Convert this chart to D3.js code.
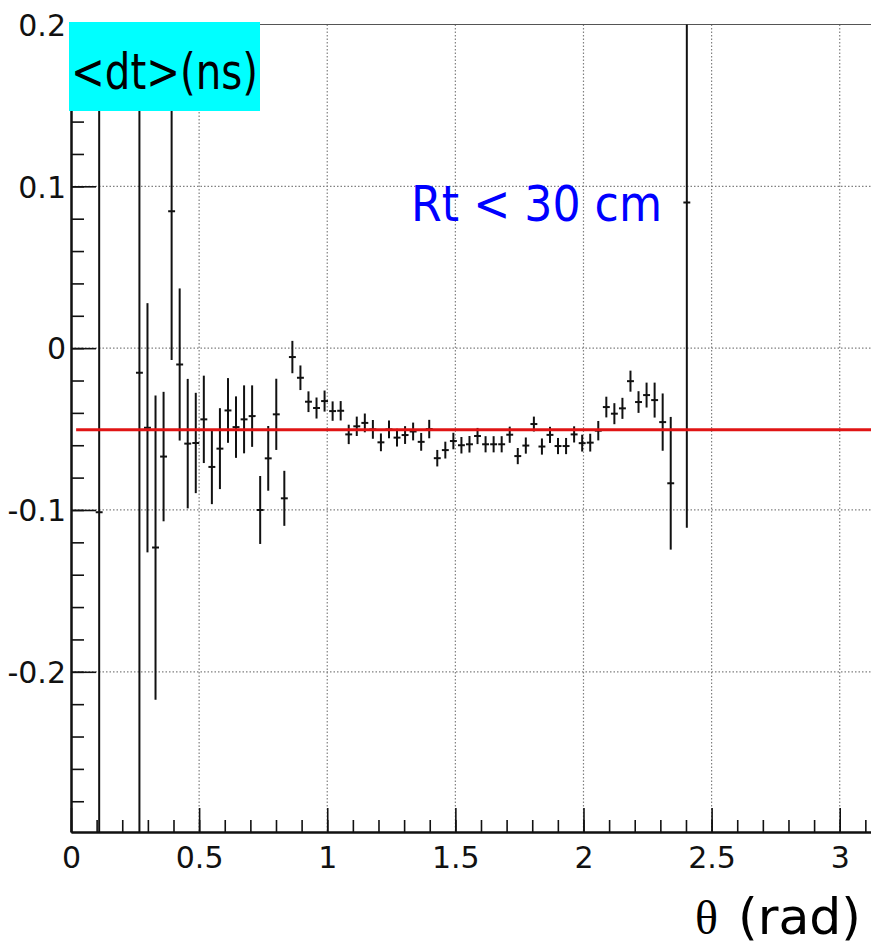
<!DOCTYPE html>
<html>
<head>
<meta charset="utf-8">
<script src="https://cdn.jsdelivr.net/npm/d3@7"></script>
<style>
  body { margin: 0; background: #fff; }
  svg { display: block; }
</style>
</head>
<body>
<svg id="chart" width="871" height="945"></svg>
<script>
// profile of <dt> vs theta, 100 bins over [0, pi]; only the filled bins are listed
const nBins = 100;
const thetaMax = Math.PI;

const bins = [3, 8, 9, 10, 11, 12, 13, 14, 15, 16, 17, 18, 19, 20, 21, 22, 23, 24, 25, 26,
  27, 28, 29, 30, 31, 32, 33, 34, 35, 36, 37, 38, 39, 40, 41, 42, 43, 44, 45, 46,
  47, 48, 49, 50, 51, 52, 53, 54, 55, 56, 57, 58, 59, 60, 61, 62, 63, 64, 65, 66,
  67, 68, 69, 70, 71, 72, 73, 74, 76];

const means = [-0.1014, -0.0152, -0.0492, -0.1232, -0.0670, 0.0846, -0.0101, -0.0590, -0.0586, -0.0440,
  -0.0734, -0.0621, -0.0385, -0.0488, -0.0440, -0.0420, -0.1000, -0.0681, -0.0409, -0.0928,
  -0.0055, -0.0183, -0.0331, -0.0370, -0.0327, -0.0389, -0.0387, -0.0533, -0.0483, -0.0462,
  -0.0502, -0.0582, -0.0502, -0.0553, -0.0537, -0.0515, -0.0579, -0.0500, -0.0680, -0.0630,
  -0.0574, -0.0600, -0.0594, -0.0543, -0.0594, -0.0594, -0.0594, -0.0535, -0.0667, -0.0602,
  -0.0469, -0.0608, -0.0536, -0.0605, -0.0605, -0.0533, -0.0587, -0.0584, -0.0510, -0.0364,
  -0.0405, -0.0372, -0.0204, -0.0333, -0.0290, -0.0321, -0.0457, -0.0835, 0.0900];

const errors = [0.40, 0.45, 0.077, 0.094, 0.040, 0.092, 0.047, 0.040, 0.031, 0.027,
  0.023, 0.025, 0.020, 0.019, 0.021, 0.019, 0.021, 0.020, 0.022, 0.017,
  0.010, 0.0076, 0.0064, 0.0065, 0.0065, 0.0060, 0.0060, 0.0060, 0.0060, 0.0058,
  0.0058, 0.0055, 0.0055, 0.0055, 0.0055, 0.0055, 0.0055, 0.0057, 0.0051, 0.0052,
  0.0051, 0.0051, 0.0051, 0.0050, 0.0050, 0.0050, 0.0050, 0.0050, 0.0050, 0.0050,
  0.0046, 0.0050, 0.0050, 0.0050, 0.0050, 0.0050, 0.0052, 0.0055, 0.0060, 0.0064,
  0.0065, 0.0065, 0.0065, 0.0067, 0.0077, 0.0108, 0.0177, 0.041, 0.201];

// straight-line fit
const fitLevel = -0.0505;
const fitFrom = 0.02;

const xTicks = [0, 0.5, 1, 1.5, 2, 2.5, 3];
const yTicks = [-0.2, -0.1, 0, 0.1, 0.2];
const yTitle = "<dt>(ns)";
const xTitleSym = "\u03b8";
const xTitleUnit = "(rad)";
const cutLabel = "Rt < 30 cm";

const svg = d3.select("#chart");

const x = d3.scaleLinear().domain([0, thetaMax]).range([71, 876]);
const y = d3.scaleLinear().domain([-0.299, 0.2]).range([832, 24.5]);
const binW = thetaMax / nBins;

svg.append("defs").append("clipPath").attr("id", "frame")
  .append("rect")
  .attr("x", x(0)).attr("y", y(0.2))
  .attr("width", x(thetaMax) - x(0)).attr("height", y(-0.299) - y(0.2));

// dotted grid
const grid = svg.append("g").attr("class", "grid")
  .attr("stroke", "#808080").attr("stroke-width", 1.2).attr("stroke-dasharray", "1.5,2");
grid.selectAll("line.gy").data(yTicks).enter().append("line")
  .attr("x1", x(0)).attr("x2", x(thetaMax))
  .attr("y1", d => y(d)).attr("y2", d => y(d));
grid.selectAll("line.gx").data(xTicks.filter(d => d > 0)).enter().append("line")
  .attr("x1", d => x(d)).attr("x2", d => x(d))
  .attr("y1", y(0.2)).attr("y2", y(-0.299));

// frame top
svg.append("line")
  .attr("x1", x(0)).attr("x2", x(thetaMax))
  .attr("y1", y(0.2)).attr("y2", y(0.2))
  .attr("stroke", "#555").attr("stroke-width", 1);

// error bars
const pts = bins.map((b, i) => ({ c: (b + 0.5) * binW, m: means[i], e: errors[i] }));
const marks = svg.append("g").attr("clip-path", "url(#frame)")
  .attr("stroke", "#111").attr("stroke-width", 2);
marks.selectAll("line.v").data(pts).enter().append("line")
  .attr("x1", d => x(d.c)).attr("x2", d => x(d.c))
  .attr("y1", d => y(d.m + d.e)).attr("y2", d => y(d.m - d.e));
marks.selectAll("line.h").data(pts).enter().append("line")
  .attr("x1", d => x(d.c - 0.43 * binW)).attr("x2", d => x(d.c + 0.43 * binW))
  .attr("y1", d => y(d.m)).attr("y2", d => y(d.m));

// fit line
svg.append("line")
  .attr("x1", x(fitFrom)).attr("x2", x(thetaMax))
  .attr("y1", y(fitLevel)).attr("y2", y(fitLevel))
  .attr("stroke", "#e01414").attr("stroke-width", 3);

// axes
const tickFont = "'DejaVu Sans', sans-serif";

const yMinor = svg.append("g").attr("transform", `translate(${x(0)},0)`)
  .call(d3.axisLeft(y).ticks(25).tickSize(-13).tickSizeOuter(0).tickFormat(""));
const yAxis = svg.append("g").attr("transform", `translate(${x(0)},0)`)
  .call(d3.axisLeft(y).tickValues(yTicks).tickSize(-25).tickSizeOuter(0).tickPadding(5)
    .tickFormat(d => d === 0 ? "0" : String(d)));

const xMinor = svg.append("g").attr("transform", `translate(0,${y(-0.299)})`)
  .call(d3.axisBottom(x).ticks(31).tickSize(-12).tickSizeOuter(0).tickFormat(""));
const xAxis = svg.append("g").attr("transform", `translate(0,${y(-0.299)})`)
  .call(d3.axisBottom(x).tickValues(xTicks).tickSize(-24).tickSizeOuter(0)
    .tickFormat(d => String(d)));

[yMinor, yAxis, xMinor, xAxis].forEach(g => {
  g.selectAll(".tick line").attr("stroke", "#111").attr("stroke-width", 1.6);
  g.select(".domain").attr("stroke", "#111").attr("stroke-width", 2);
});
yAxis.selectAll("text").attr("font-family", tickFont).attr("font-size", 30)
  .attr("fill", "#111").attr("dy", "0.36em");
xAxis.selectAll("text").attr("font-family", tickFont).attr("font-size", 30)
  .attr("fill", "#111").attr("y", 36).attr("dy", 0);

// titles
const handFont = "'DejaVu Sans', sans-serif";

svg.append("rect")
  .attr("x", 69).attr("y", 22).attr("width", 191).attr("height", 89)
  .attr("fill", "#00ffff");
svg.append("text")
  .attr("x", 71).attr("y", 89)
  .attr("font-family", handFont).attr("font-size", 50)
  .attr("textLength", 187).attr("lengthAdjust", "spacingAndGlyphs")
  .attr("fill", "#000")
  .text(yTitle);

svg.append("text")
  .attr("x", 411).attr("y", 221)
  .attr("font-family", handFont).attr("font-size", 50)
  .attr("textLength", 251).attr("lengthAdjust", "spacingAndGlyphs")
  .attr("fill", "#0000ff")
  .text(cutLabel);

svg.append("text")
  .attr("x", 695).attr("y", 934)
  .attr("font-family", "'Liberation Serif', serif").attr("font-size", 48)
  .attr("fill", "#000")
  .text(xTitleSym);
svg.append("text")
  .attr("x", 738).attr("y", 934)
  .attr("font-family", handFont).attr("font-size", 50)
  .attr("textLength", 123).attr("lengthAdjust", "spacingAndGlyphs")
  .attr("fill", "#000")
  .text(xTitleUnit);
</script>
</body>
</html>
